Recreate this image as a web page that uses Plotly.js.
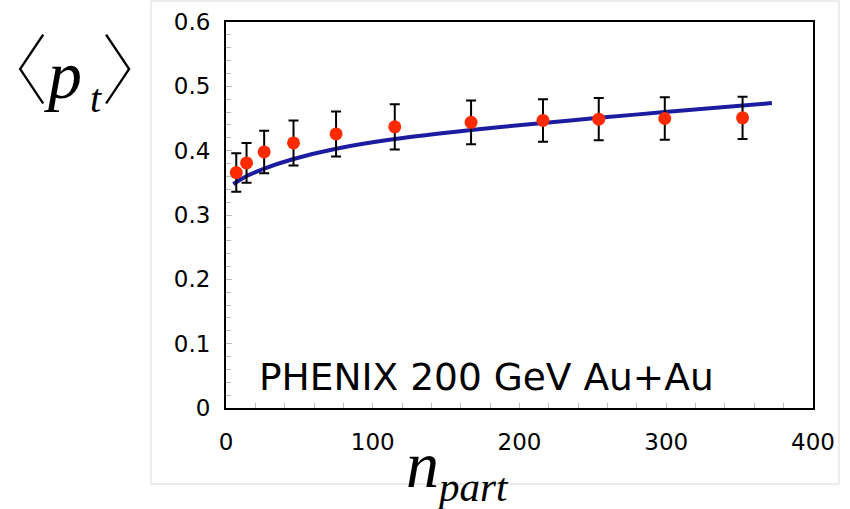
<!DOCTYPE html>
<html>
<head>
<meta charset="utf-8">
<script src="https://cdn.plot.ly/plotly-3.0.1.min.js"></script>
<style>html,body{margin:0;padding:0;background:#fff;}</style>
</head>
<body>
<div id="chart" style="width:850px;height:509px;"></div>
<script>
// Data
const nPartData = [7, 14, 26, 46, 75, 115, 167, 216, 254, 299, 352];
const meanPtData = [0.366, 0.381, 0.398, 0.412, 0.426, 0.437, 0.444, 0.447, 0.449, 0.450, 0.451];
const meanPtErr = [0.030, 0.031, 0.033, 0.035, 0.035, 0.035, 0.034, 0.033, 0.033, 0.033, 0.033];

const nPartModel = [5, 12, 26, 46, 75, 115, 167, 216, 254, 299, 372];
const meanPtModel = [0.348, 0.358, 0.372, 0.387, 0.403, 0.418, 0.432, 0.443, 0.451, 0.460, 0.474];

const xTickVals = [0, 100, 200, 300, 400];
const yTickVals = [0, 0.1, 0.2, 0.3, 0.4, 0.5, 0.6];
const yTickText = ['0', '0.1', '0.2', '0.3', '0.4', '0.5', '0.6'];

const traces = [
  {
    x: nPartModel, y: meanPtModel, type: 'scatter', mode: 'lines',
    line: {color: '#1c1ca0', width: 4, shape: 'spline', smoothing: 0.8},
    hoverinfo: 'skip', showlegend: false
  },
  {
    x: nPartData, y: meanPtData, type: 'scatter', mode: 'markers',
    marker: {color: '#ff2a00', size: 13},
    error_y: {type: 'data', array: meanPtErr, visible: true, color: '#000', thickness: 2, width: 5},
    showlegend: false
  }
];

const tickFont = {family: 'DejaVu Sans, Verdana, sans-serif', size: 23, color: '#000'};

const layout = {
  width: 850, height: 509,
  margin: {l: 226, r: 37, t: 22, b: 101},
  paper_bgcolor: '#fff', plot_bgcolor: '#fff',
  showlegend: false,
  xaxis: {
    range: [0, 400], tickvals: xTickVals, ticktext: xTickVals.map(String),
    showgrid: false, zeroline: false,
    showline: true, mirror: true, linecolor: '#000', linewidth: 2,
    ticks: 'inside', ticklen: 5, tickcolor: '#bbb', tickwidth: 1,
    minor: {dtick: 20, ticks: 'inside', ticklen: 5, tickcolor: '#bbb', showgrid: false},
    tickfont: tickFont, ticklabelstandoff: 12
  },
  yaxis: {
    range: [0, 0.6], tickvals: yTickVals, ticktext: yTickText,
    showgrid: false, zeroline: false,
    showline: true, mirror: true, linecolor: '#000', linewidth: 2,
    ticks: 'inside', ticklen: 6, tickcolor: '#bbb', tickwidth: 1,
    minor: {dtick: 0.02, ticks: 'inside', ticklen: 5, tickcolor: '#bbb', showgrid: false},
    tickfont: tickFont, ticklabelstandoff: 9
  },
  shapes: [
    {type: 'rect', xref: 'paper', yref: 'paper',
     x0: (151 - 226) / 587, x1: (839 - 226) / 587,
     y0: (408 - 484) / 386, y1: (408 - 1) / 386,
     line: {color: '#d9d9d9', width: 1}, layer: 'below'}
  ],
  annotations: [
    {text: 'PHENIX 200 GeV Au+Au', xref: 'x', yref: 'y', x: 21, y: 0.048,
     xanchor: 'left', yanchor: 'middle', showarrow: false,
     font: {family: 'DejaVu Sans, Verdana, sans-serif', size: 37.5, color: '#000'}},
    {text: '<span style="font-family:\'Noto Sans CJK JP\';font-weight:100;font-size:76px">〈</span><i><span style="font-size:68px">p</span></i><sub><i><span style="font-size:40px">\u2009t</span></i></sub><span style="font-family:\'Noto Sans CJK JP\';font-weight:100;font-size:76px">〉</span>',
     xref: 'paper', yref: 'paper',
     x: (74 - 226) / 587, y: (408 - 66) / 386, xanchor: 'center', yanchor: 'middle',
     showarrow: false,
     font: {family: 'Liberation Serif, Times New Roman, serif', size: 68, color: '#000'}},
    {text: '<i>n</i><sub><i><span style="font-size:41px">part</span></i></sub>', xref: 'paper', yref: 'paper',
     x: (457 - 226) / 587, y: (408 - 469) / 386, xanchor: 'center', yanchor: 'middle',
     showarrow: false,
     font: {family: 'Liberation Serif, Times New Roman, serif', size: 66, color: '#000'}}
  ]
};

Plotly.newPlot('chart', traces, layout, {displayModeBar: false, staticPlot: true});
</script>
</body>
</html>
